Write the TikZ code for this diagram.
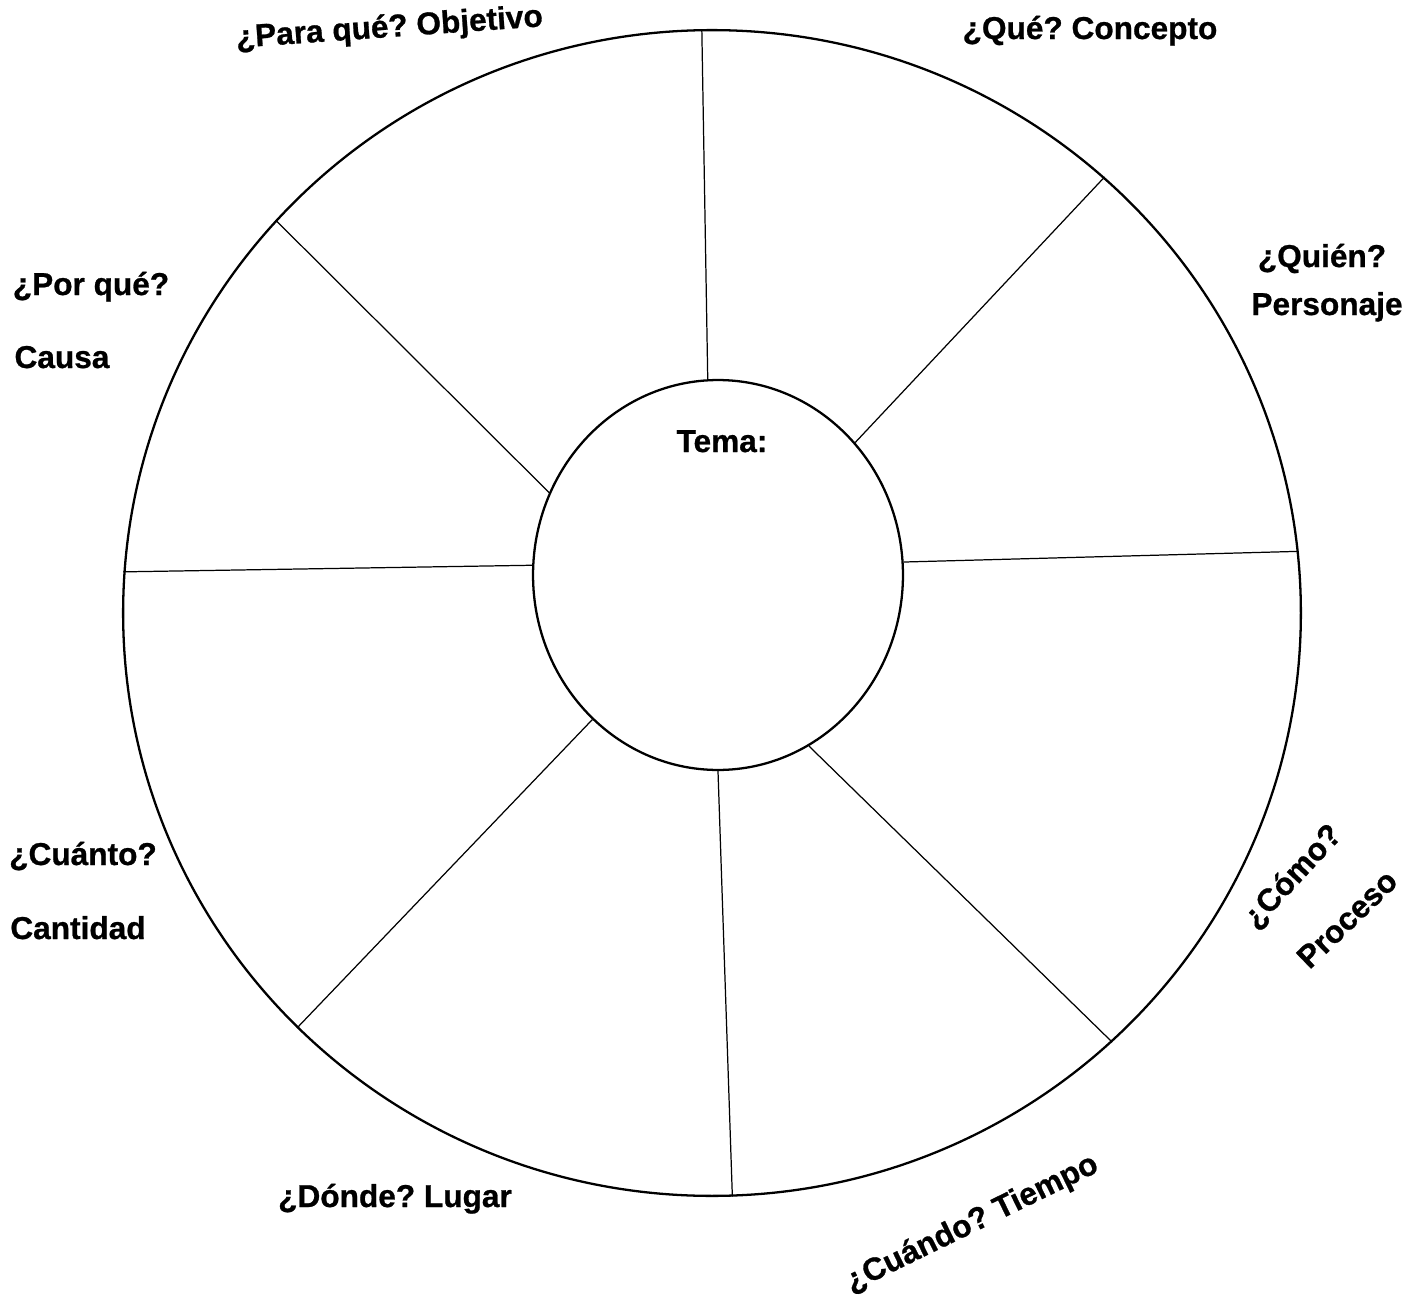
\documentclass[tikz,border=0pt]{standalone}
\usepackage{fontspec}
\setmainfont{Liberation Sans}[BoldFeatures={FakeBold=0.8}]
\frenchspacing
\usetikzlibrary{shapes.geometric}
\tikzset{
  rim/.style={ellipse, draw, line width=1.3pt, inner sep=0pt,
              minimum width=23.56cm, minimum height=23.32cm},
  hub/.style={ellipse, draw, line width=1.3pt, inner sep=0pt,
              minimum width=7.4cm, minimum height=7.8cm},
  spoke/.style={line width=0.7pt},
  lbl/.style={font=\fontsize{18}{21}\selectfont\bfseries, inner sep=0pt, anchor=base},
  tlbl/.style={font=\fontsize{18}{21}\selectfont\bfseries, inner sep=0pt},
}

\begin{document}
\begin{tikzpicture}[x=0.02cm, y=-0.02cm]
  \useasboundingbox (0,0) rectangle (1421,1298);
  % wheel and hub
  \node[rim] (rueda) at (712,613) {};
  \node[hub] (tema)  at (718,575) {};
  \node[lbl] (temalbl) at (722,452) {Tema:};

  % spokes, hub -> rim
  \draw[spoke] (tema.93)  -- (rueda.91);
  \draw[spoke] (tema.44)  -- (rueda.48);
  \draw[spoke] (tema.4)   -- (rueda.6);
  \draw[spoke] (tema.-62) -- (rueda.-47);
  \draw[spoke] (tema.-90) -- (rueda.-88);
  \draw[spoke] (tema.229) -- (rueda.225);
  \draw[spoke] (tema.177) -- (rueda.176);
  \draw[spoke] (tema.154) -- (rueda.138);

  % questions round the wheel
  \node[lbl, rotate=4] (objetivo) at (390,37) {¿Para qué? Objetivo};
  \node[lbl] (concepto)  at (1090,39)  {¿Qué? Concepto};
  \node[lbl] (quien)     at (1322,267) {¿Quién?};
  \node[lbl] (personaje) at (1327,315) {Personaje};
  \node[lbl] (porque)    at (91,295)   {¿Por qué?};
  \node[lbl] (causa)     at (62,368)   {Causa};
  \node[lbl] (cuanto)    at (83,865)   {¿Cuánto?};
  \node[lbl] (cantidad)  at (78,939)   {Cantidad};
  \node[lbl] (donde)     at (395,1207) {¿Dónde? Lugar};
  \node[tlbl, rotate=26] (cuando)  at (972,1224) {¿Cuándo? Tiempo};
  \node[tlbl, rotate=47] (como)    at (1293,877) {¿Cómo?};
  \node[tlbl, rotate=44] (proceso) at (1347,919) {Proceso};
\end{tikzpicture}
\end{document}
